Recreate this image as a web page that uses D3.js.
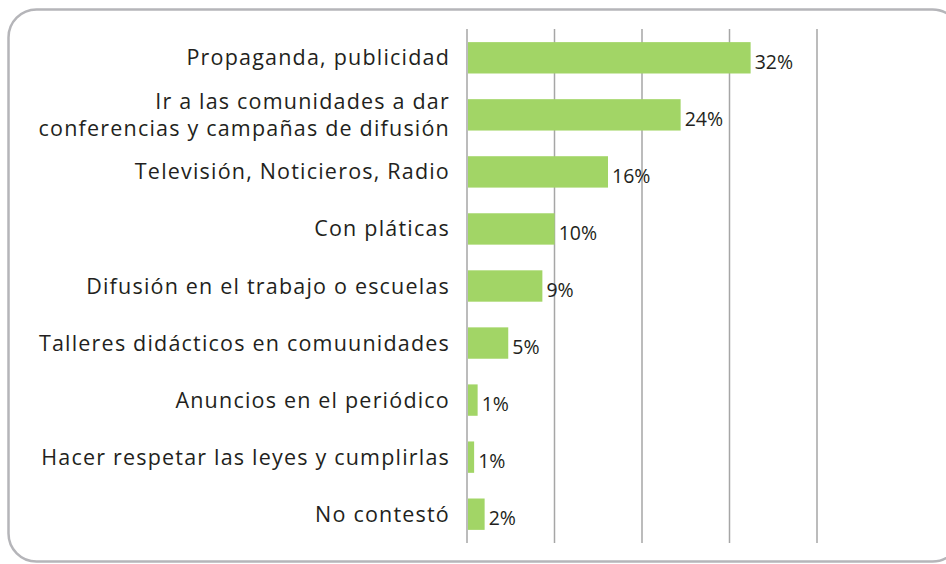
<!DOCTYPE html>
<html>
<head>
<meta charset="utf-8">
<script src="https://cdn.jsdelivr.net/npm/d3@7"></script>
<style>
  body { margin: 0; background: #fff; }
  text { font-family: 'Open Sans', sans-serif; fill: #231f20; }
</style>
</head>
<body>
<div id="chart"></div>
<script>
const categories = [
  'Propaganda, publicidad',
  'Ir a las comunidades a dar|conferencias y campañas de difusión',
  'Televisión, Noticieros, Radio',
  'Con pláticas',
  'Difusión en el trabajo o escuelas',
  'Talleres didácticos en comuunidades',
  'Anuncios en el periódico',
  'Hacer respetar las leyes y cumplirlas',
  'No contestó'
]
const values = [32.3, 24.3, 16.0, 9.9, 8.5, 4.6, 1.1, 0.7, 1.9]
const valueLabels = ['32%', '24%', '16%', '10%', '9%', '5%', '1%', '1%', '2%']
const ticks = [0, 10, 20, 30, 40]

const width = 946
const height = 564
const margin = { top: 29, left: 467, right: 129, bottom: 21 }
const innerW = width - margin.left - margin.right
const innerH = height - margin.top - margin.bottom

const svg = d3
  .select('#chart')
  .append('svg')
  .attr('width', width)
  .attr('height', height)

// rounded frame
svg
  .append('rect')
  .attr('x', 8.5)
  .attr('y', 9.5)
  .attr('width', 952)
  .attr('height', 552)
  .attr('rx', 28)
  .attr('fill', 'none')
  .attr('stroke', '#b5b5b9')
  .attr('stroke-width', 2.5)

const g = svg
  .append('g')
  .attr('transform', 'translate(' + margin.left + ',' + margin.top + ')')

const xPositionScale = d3
  .scaleLinear()
  .domain([0, 40])
  .range([0, innerW])

const yPositionScale = d3
  .scaleBand()
  .domain(categories)
  .range([0, innerH])
  .paddingInner(0.45)
  .paddingOuter(0.23)

// vertical gridlines
g.selectAll('.grid')
  .data(ticks)
  .enter()
  .append('line')
  .attr('class', 'grid')
  .attr('x1', d => xPositionScale(d))
  .attr('x2', d => xPositionScale(d))
  .attr('y1', 0)
  .attr('y2', innerH)
  .attr('stroke', '#a6a6a6')
  .attr('stroke-width', 1.5)

g.selectAll('.bar')
  .data(values)
  .enter()
  .append('rect')
  .attr('class', 'bar')
  .attr('x', xPositionScale(0) + 1)
  .attr('y', (d, i) => yPositionScale(categories[i]))
  .attr('width', d => xPositionScale(d) - xPositionScale(0))
  .attr('height', yPositionScale.bandwidth())
  .attr('fill', '#a2d566')

g.selectAll('.value')
  .data(values)
  .enter()
  .append('text')
  .attr('class', 'value')
  .attr('x', d => xPositionScale(d) + 5)
  .attr('y', (d, i) => yPositionScale(categories[i]) + yPositionScale.bandwidth() / 2 + 4)
  .attr('dy', '0.35em')
  .attr('font-size', 19.5)
  .text((d, i) => valueLabels[i])

// category labels, some split on two lines
const labelX = -17
const labels = g
  .selectAll('.label')
  .data(categories)
  .enter()
  .append('text')
  .attr('class', 'label')
  .attr('text-anchor', 'end')
  .attr('font-size', 21.5)
  .attr('letter-spacing', '1.2px')
  .attr('y', d => yPositionScale(d) + yPositionScale.bandwidth() / 2)

labels.each(function(d) {
  const lines = d.split('|')
  const el = d3.select(this)
  lines.forEach((line, i) => {
    el.append('tspan')
      .attr('x', labelX)
      .attr('dy', i === 0 ? (0.35 - (lines.length - 1) * 0.62) + 'em' : '1.24em')
      .text(line)
  })
})
</script>
</body>
</html>
